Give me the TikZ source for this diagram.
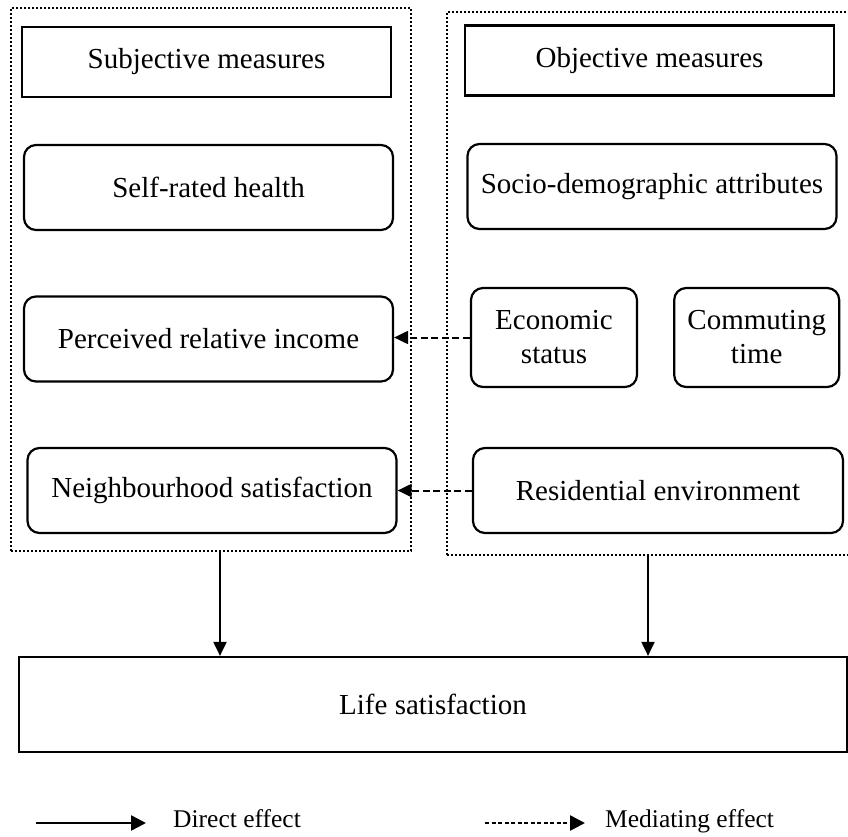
\documentclass[tikz,border=0pt]{standalone}
\usepackage{fontspec}
\setmainfont{Liberation Serif}
\usetikzlibrary{arrows.meta,positioning}

\begin{document}
\begin{tikzpicture}[x=1pt,y=-1pt,
      font=\fontsize{29}{34}\selectfont,
      head/.style={draw,line width=2.2pt,minimum width=369pt,minimum height=70pt,align=center},
      factor/.style={draw,line width=2.2pt,rounded corners=12pt,minimum width=369pt,minimum height=85pt,align=center},
      group/.style={draw,line width=2pt,dash pattern=on 2pt off 2pt,minimum width=400pt,minimum height=543pt},
      mediate/.style={line width=2pt,dash pattern=on 7pt off 3.5pt},
      >={Triangle[length=14pt,width=13pt]}
    ]
      \useasboundingbox (0,0) rectangle (848,837);
      \node[group] (G1) at (210.5,279.5) {};
      \node[group,minimum width=402pt] (G2) at (648,283.5) {};

      \node[head] (subj) at (206.5,62) {Subjective measures};
      \node[head] (obj) at (649.5,60.5) {Objective measures};
      \node[factor] (health) at (208.5,187.5) {Self-rated health};
      \node[factor] (income) at (208.5,339) {Perceived relative income};
      \node[factor] (neigh) at (212,490.5) {Neighbourhood satisfaction};
      \node[factor] (socio) at (652,186.5) {Socio-demographic attributes};
      \node[factor,minimum width=166pt,minimum height=99pt] (econ) at (554,337.5) {Economic\\status};
      \node[factor,minimum width=165pt,minimum height=99pt,right=35pt of econ] (commute) {Commuting\\time};
      \node[factor,minimum width=370pt] (resid) at (658,490.5) {Residential environment};
      \node[draw,line width=2.2pt,minimum width=828pt,minimum height=95pt] (life) at (433,704.5) {Life satisfaction};

      \draw[->,mediate] (econ.west) -- (econ.west -| income.east);
      \draw[->,mediate] (resid.west) -- (resid.west -| neigh.east);
      \draw[->,line width=2pt] ([xshift=9.5pt]G1.south) -- ([xshift=9.5pt]G1.south |- life.north);
      \draw[->,line width=2pt] (G2.south) -- (G2.south |- life.north);

      \coordinate (d1) at (36,823);
      \coordinate (d2) at (146,823);
      \coordinate (m1) at (485,823);
      \coordinate (m2) at (585,823);
      \draw[->,line width=2.6pt,>={Triangle[length=15pt,width=15pt]}] (d1) -- (d2);
      \draw[->,line width=2.6pt,dash pattern=on 4pt off 2.5pt,>={Triangle[length=15pt,width=15pt]}] (m1) -- (m2);
      \node[anchor=base west,inner sep=0pt,font=\fontsize{25.5}{30}\selectfont] (direct) at (173,827) {Direct effect};
      \node[anchor=base west,inner sep=0pt,font=\fontsize{25.5}{30}\selectfont] (mediating) at (605,827) {Mediating effect};
    \end{tikzpicture}
\end{document}
